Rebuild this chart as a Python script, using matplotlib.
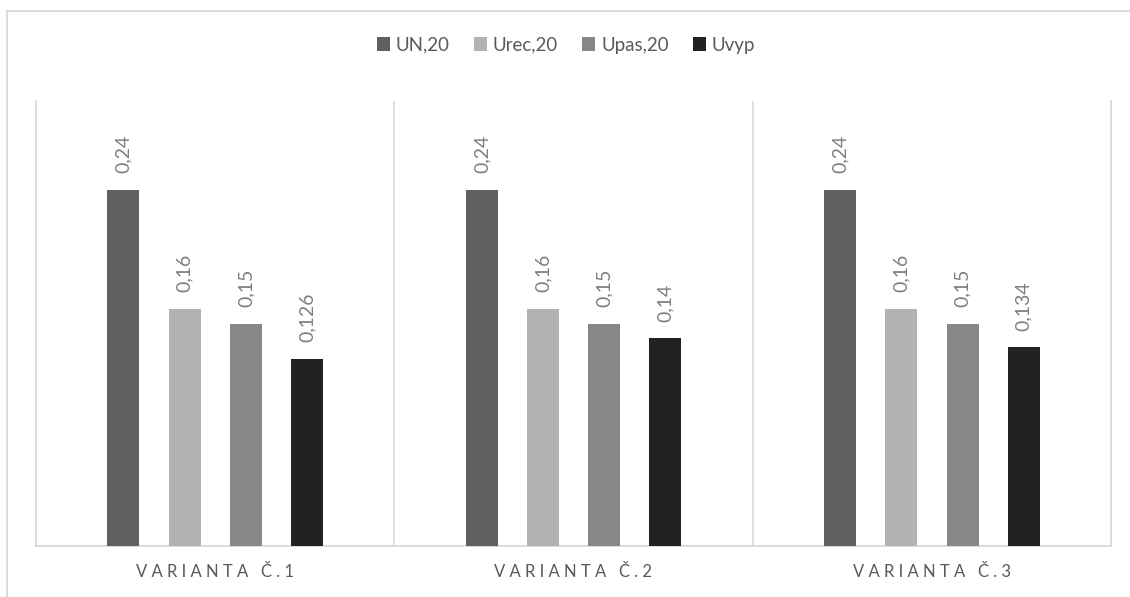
import matplotlib
matplotlib.use("Agg")
import matplotlib.pyplot as plt
from matplotlib.patches import Patch
from matplotlib.lines import Line2D
import numpy as np

categories = ["VARIANTA Č.1", "VARIANTA Č.2", "VARIANTA Č.3"]
series_names = ["UN,20", "Urec,20", "Upas,20", "Uvyp"]
un20 = [0.24, 0.24, 0.24]
urec20 = [0.16, 0.16, 0.16]
upas20 = [0.15, 0.15, 0.15]
uvyp = [0.126, 0.14, 0.134]

series = [un20, urec20, upas20, uvyp]
colors = ["#5f5f5f", "#b3b3b3", "#878787", "#222222"]

def fmt(v):
    return ("%g" % v).replace(".", ",")

plt.rcParams['font.family'] = ['Lato', 'DejaVu Sans']

W, H = 1130, 597
fig = plt.figure(figsize=(W / 100, H / 100), dpi=100)
fig.patch.set_facecolor("white")

# outer chart frame (top and left edges visible)
fig.add_artist(Line2D([7 / W, 1.0], [1 - 11 / H, 1 - 11 / H], transform=fig.transFigure,
                      color="#d9d9d9", lw=1.3))
fig.add_artist(Line2D([7 / W, 7 / W], [0, 1 - 11 / H], transform=fig.transFigure,
                      color="#d9d9d9", lw=1.3))

ax = fig.add_axes([36 / W, (H - 546) / H, 1075 / W, 445 / H])
ax.set_xlim(0, 3)
ax.set_ylim(0, 0.30)

offsets = [0.244, 0.415, 0.586, 0.756]
bw = 0.089
x = np.arange(len(categories))
for i, (vals, col) in enumerate(zip(series, colors)):
    xs = x + offsets[i]
    ax.bar(xs, vals, width=bw, color=col, edgecolor="none", zorder=3)
    for xx, v in zip(xs, vals):
        ax.annotate(fmt(v), (xx, v), xytext=(0, 12), textcoords="offset points",
                    rotation=90, ha="center", va="bottom", fontsize=14, color="#7f7f7f")

# group separators
for b in [1, 2]:
    ax.axvline(b, color="#d9d9d9", lw=1.2, zorder=1)

ax.spines["top"].set_visible(False)
for s in ["left", "right", "bottom"]:
    ax.spines[s].set_color("#d9d9d9")
    ax.spines[s].set_linewidth(1.3)

ax.set_yticks([])
spaced = [" ".join(list(c)) for c in categories]
ax.set_xticks(x + 0.5)
ax.set_xticklabels(spaced, fontsize=12, color="#595959")
ax.tick_params(axis="x", length=0, pad=13)

handles = [Patch(facecolor=c, edgecolor="none") for c in colors]
fig.legend(handles, series_names, loc="center", bbox_to_anchor=(566 / W, 1 - 45 / H),
           ncol=4, frameon=False, fontsize=13.5, handlelength=0.7, handleheight=0.7,
           handletextpad=0.3, columnspacing=1.3, labelcolor="#595959")

fig.savefig("out.png", dpi=100, facecolor="white")
